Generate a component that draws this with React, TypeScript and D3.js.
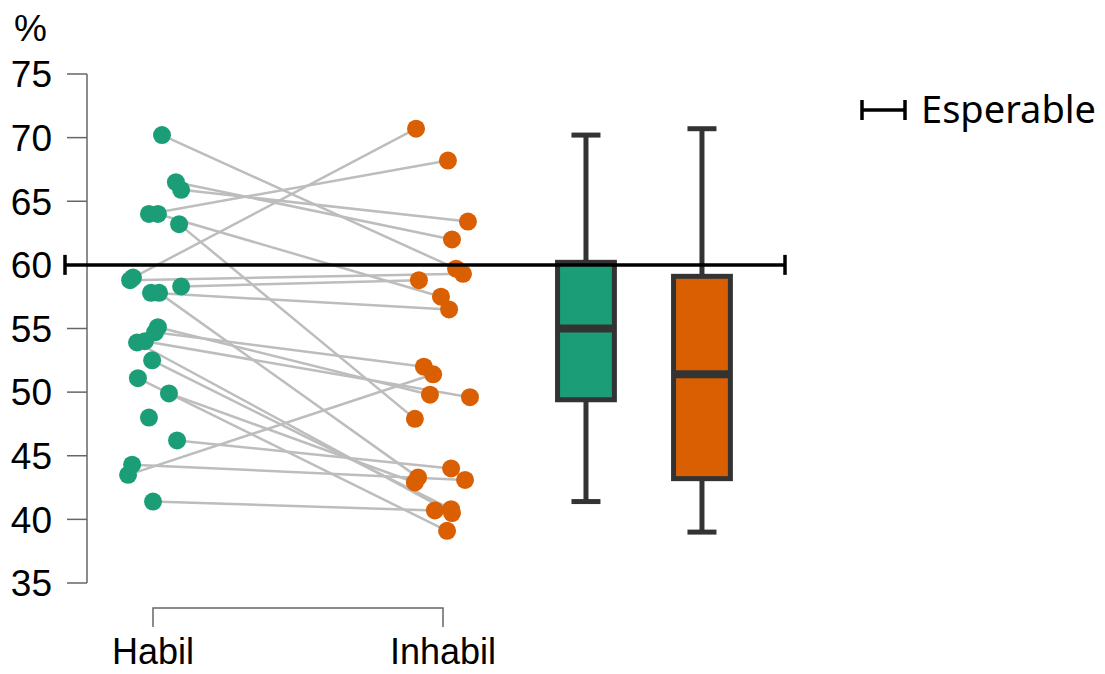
import React from "react";
import * as d3 from "d3";

// Paired scores per participant (Habil -> Inhabil); null = no Inhabil score
const habilScores = [70.2, 66.5, 65.9, 64.0, 64.0, 63.2, 59.0, 58.8, 58.3, 57.8, 57.8, 55.1, 54.7, 54.0, 53.9, 52.5, 51.1, 49.9, 48.0, 46.2, 44.3, 43.5, 41.4];
const inhabilScores: (number | null)[] = [59.7, 62.0, 63.4, 68.2, 57.5, 47.9, 70.7, 59.3, 58.8, 56.5, 43.3, 49.8, 52.0, 49.6, 40.5, 40.8, 39.1, 42.9, null, 44.0, 43.1, 51.4, 40.7];

// Horizontal jitter of each dot, in category units
const habilJitter = [0.031, 0.079, 0.097, -0.014, 0.017, 0.09, -0.069, -0.079, 0.097, -0.007, 0.021, 0.017, 0.007, -0.028, -0.055, -0.003, -0.052, 0.055, -0.014, 0.083, -0.072, -0.086, 0.0];
const inhabilJitter = [0.045, 0.031, 0.086, 0.017, -0.007, -0.097, -0.093, 0.069, -0.083, 0.021, -0.086, -0.045, -0.066, 0.093, 0.031, 0.028, 0.014, -0.097, 0, 0.028, 0.076, -0.034, -0.028];

// Box summaries: [lower whisker, Q1, median, Q3, upper whisker]
const groups = ["Habil", "Inhabil"];
const boxHabil = [41.4, 49.4, 55.0, 60.2, 70.2];
const boxInhabil = [39.0, 43.2, 51.4, 59.1, 70.7];

const expectedValue = 60;
const yTicks = [35, 40, 45, 50, 55, 60, 65, 70, 75];

const GREEN = "#1b9e77";
const ORANGE = "#d95f02";
const BOX_STROKE = "#333333";
const AXIS = "#666666";
const SANS = "Liberation Sans, Arial, sans-serif";

export default function App() {
  const y = d3.scaleLinear().domain([35, 75]).range([583, 74]);
  // category positions: 1 = Habil dots, 2 = Inhabil dots, further right = boxes
  const x = d3.scaleLinear().domain([1, 2]).range([153, 443]);
  const boxPos = [2.493, 2.893];
  const boxHalf = 0.098;
  const capHalf = 0.05;

  const boxes = [
    { stats: boxHabil, color: GREEN, pos: boxPos[0] },
    { stats: boxInhabil, color: ORANGE, pos: boxPos[1] },
  ];

  const pairs = habilScores.map((h, i) => ({
    h,
    hx: 1 + habilJitter[i],
    v: inhabilScores[i],
    vx: 2 + inhabilJitter[i],
  }));

  const refLeft = 65;
  const refRight = 785;

  return (
    <svg width={1105} height={674} style={{ display: "block", position: "absolute", left: 0, top: 0 }}>
      <rect width={1105} height={674} fill="#ffffff" />

      {/* y axis */}
      <text x={14} y={41} fontFamily={SANS} fontSize={37} fill="#000">%</text>
      <line x1={87} x2={87} y1={y(75)} y2={y(35)} stroke={AXIS} strokeWidth={1.5} />
      {yTicks.map((t) => (
        <g key={t}>
          <line x1={67} x2={87} y1={y(t)} y2={y(t)} stroke={AXIS} strokeWidth={1.5} />
          <text
            x={52}
            y={y(t)}
            dy="0.36em"
            textAnchor="end"
            fontFamily={SANS}
            fontSize={37}
            fill="#000"
          >
            {t}
          </text>
        </g>
      ))}

      {/* x axis bracket */}
      <path
        d={`M${x(1)},627 V608 H${x(2)} V627`}
        fill="none"
        stroke={AXIS}
        strokeWidth={1.5}
      />
      {groups.map((g, i) => (
        <text
          key={g}
          x={x(i + 1)}
          y={664}
          textAnchor="middle"
          fontFamily={SANS}
          fontSize={36}
          fill="#000"
        >
          {g}
        </text>
      ))}

      {/* paired lines */}
      {pairs.map((p, i) =>
        p.v == null ? null : (
          <line
            key={"l" + i}
            x1={x(p.hx)}
            y1={y(p.h)}
            x2={x(p.vx)}
            y2={y(p.v)}
            stroke="#bdbdbd"
            strokeWidth={2.5}
          />
        )
      )}

      {/* dots */}
      {pairs.map((p, i) => (
        <circle key={"h" + i} cx={x(p.hx)} cy={y(p.h)} r={9} fill={GREEN} />
      ))}
      {pairs.map((p, i) =>
        p.v == null ? null : (
          <circle key={"v" + i} cx={x(p.vx)} cy={y(p.v)} r={9} fill={ORANGE} />
        )
      )}

      {/* box plots */}
      {boxes.map((b, i) => {
        const [lo, q1, med, q3, hi] = b.stats;
        const cx = x(b.pos);
        const x0 = x(b.pos - boxHalf);
        const x1 = x(b.pos + boxHalf);
        const c0 = x(b.pos - capHalf);
        const c1 = x(b.pos + capHalf);
        return (
          <g key={"b" + i}>
            <line x1={cx} x2={cx} y1={y(hi)} y2={y(q3)} stroke={BOX_STROKE} strokeWidth={5} />
            <line x1={cx} x2={cx} y1={y(q1)} y2={y(lo)} stroke={BOX_STROKE} strokeWidth={5} />
            <line x1={c0} x2={c1} y1={y(hi)} y2={y(hi)} stroke={BOX_STROKE} strokeWidth={5} />
            <line x1={c0} x2={c1} y1={y(lo)} y2={y(lo)} stroke={BOX_STROKE} strokeWidth={5} />
            <rect
              x={x0}
              y={y(q3)}
              width={x1 - x0}
              height={y(q1) - y(q3)}
              fill={b.color}
              stroke={BOX_STROKE}
              strokeWidth={5}
            />
            <line x1={x0} x2={x1} y1={y(med)} y2={y(med)} stroke={BOX_STROKE} strokeWidth={8} />
          </g>
        );
      })}

      {/* expected value reference */}
      <line x1={refLeft} x2={refRight} y1={y(expectedValue)} y2={y(expectedValue)} stroke="#000" strokeWidth={3.5} />
      <line x1={refLeft} x2={refLeft} y1={y(expectedValue) - 10} y2={y(expectedValue) + 10} stroke="#000" strokeWidth={3.5} />
      <line x1={refRight} x2={refRight} y1={y(expectedValue) - 10} y2={y(expectedValue) + 10} stroke="#000" strokeWidth={3.5} />

      {/* legend */}
      <g>
        <line x1={862} x2={905} y1={110} y2={110} stroke="#000" strokeWidth={3.5} />
        <line x1={862} x2={862} y1={100} y2={120} stroke="#000" strokeWidth={3.5} />
        <line x1={905} x2={905} y1={100} y2={120} stroke="#000" strokeWidth={3.5} />
        <text x={921} y={123} fontFamily="Noto Sans, Open Sans, sans-serif" fontSize={38} fill="#000">
          Esperable
        </text>
      </g>
    </svg>
  );
}
